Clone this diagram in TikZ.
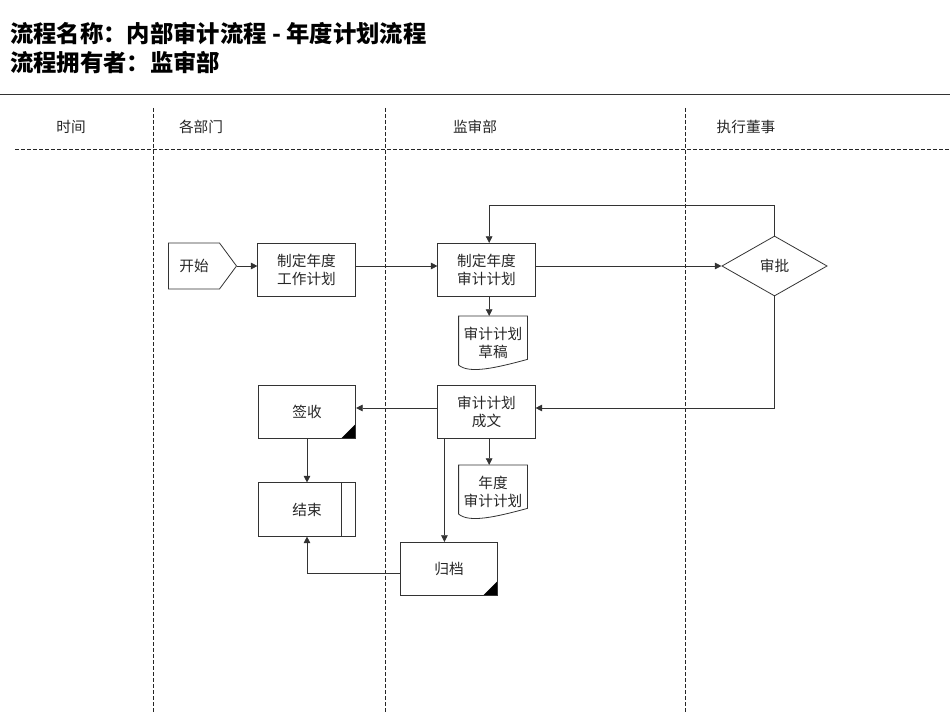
\documentclass[tikz,border=0pt]{standalone}
\usepackage{fontspec}
\setmainfont{Noto Sans CJK SC}
\usetikzlibrary{arrows.meta,positioning,shapes.geometric,shapes.symbols}

\tikzset{
  line/.style={draw=black!80, line width=0.6pt},
  lane/.style={draw=black!85, line width=0.5pt, dash pattern=on 3pt off 1.5pt},
  arrow/.style={line, -{Triangle[length=5pt,width=5pt]}},
  flow/.style={line, align=center, inner sep=1pt, text=black!85,
    font=\fontsize{11}{14}\selectfont},
  task/.style={flow, rectangle, minimum width=73pt, minimum height=40pt},
  signed/.style={task, path picture={
    \fill (path picture bounding box.south east) -- ++(-11pt,0) -- ++(11pt,11pt) -- cycle;}},
  stopbox/.style={task, path picture={
    \draw[line] ([xshift=-11pt]path picture bounding box.north east)
      -- ([xshift=-11pt]path picture bounding box.south east);}},
  startbox/.style={flow, signal, signal to=east, signal pointer angle=107,
    minimum width=51pt, minimum height=34.5pt},
  check/.style={flow, diamond, aspect=1.75, inner sep=0pt,
    minimum width=79pt, minimum height=45pt},
  docnode/.style={flow, draw=none, minimum width=51pt, minimum height=40pt},
  lanehead/.style={font=\fontsize{11}{14}\selectfont, text=black!85},
  title/.style={anchor=west, inner sep=0pt, font=\fontsize{17.5}{21}\selectfont\bfseries}
}

\newcommand{\docshape}[1]{%
  \draw[line] (#1.north west) -- (#1.north east) -- ([yshift=8pt]#1.south east)
    .. controls ([xshift=-24pt,yshift=1.5pt]#1.south east)
    and ([xshift=8pt,yshift=-3pt]#1.south west) .. ([yshift=3.75pt]#1.south west)
    -- cycle;}

\begin{document}
\begin{tikzpicture}[x=0.75pt,y=-0.75pt]
  \useasboundingbox (0,0) rectangle (950,713);

  % Title and lanes
  \node[title] (name)  at (10,34) {流程名称：内部审计流程 - 年度计划流程};
  \node[title] (owner) at (10,63) {流程拥有者：监审部};
  \draw[line] (0,94) -- (950,94);
  \draw[lane] (15,149) -- (950,149);
  \foreach \x in {153,385,685}
    \draw[lane] (\x,108) -- (\x,713);
  \node[lanehead] (time)  at (71,127)  {时间};
  \node[lanehead] (depts) at (201,127) {各部门};
  \node[lanehead] (audit) at (475,127) {监审部};
  \node[lanehead] (exec)  at (746,127) {执行董事};

  % Define nodes
  \node[startbox] (start)   at (194,266)   {开始};
  \node[task]     (work)    at (306.5,270) {制定年度\\工作计划};
  \node[task]     (plan)    at (486.5,270) {制定年度\\审计计划};
  \node[check]    (approve) at (774.5,266) {审批};
  \node[docnode]  (draft)   at (493,343)   {审计计划\\草稿};
  \node[task]     (final)   at (486.5,412) {审计计划\\成文};
  \node[signed]   (sign)    at (307,412)   {签收};
  \node[docnode]  (yearplan) at (493,492)  {年度\\审计计划};
  \node[stopbox]  (finish)  at (307,509.5) {结束};
  \node[signed]   (archive) at (449,569)   {归档};
  \docshape{draft}
  \docshape{yearplan}

  % Connect the nodes
  \draw[arrow] (start.east) -- (start.east -| work.west);
  \draw[arrow] (start.east -| work.east) -- (start.east -| plan.west);
  \draw[arrow] (start.east -| plan.east) -- (approve.west);
  \draw[arrow] (approve.north) -- ++(0,-30) -| ([xshift=2pt]plan.north);
  \draw[arrow] ([xshift=2pt]plan.south) -- ([xshift=2pt]plan.south |- draft.north);
  \draw[arrow] (approve.south) |- ([yshift=3pt]final.east);
  \draw[arrow] ([yshift=3pt]final.west) -- ([yshift=3pt]sign.east);
  \draw[arrow] ([xshift=2pt]final.south) -- ([xshift=2pt]final.south |- yearplan.north);
  \draw[arrow] ([xshift=5.25pt]final.south west) -- ([xshift=5.25pt]final.south west |- archive.north);
  \draw[arrow] (sign.south) -- (finish.north);
  \draw[arrow] ([yshift=-3pt]archive.west) -| (finish.south);

\end{tikzpicture}
\end{document}
